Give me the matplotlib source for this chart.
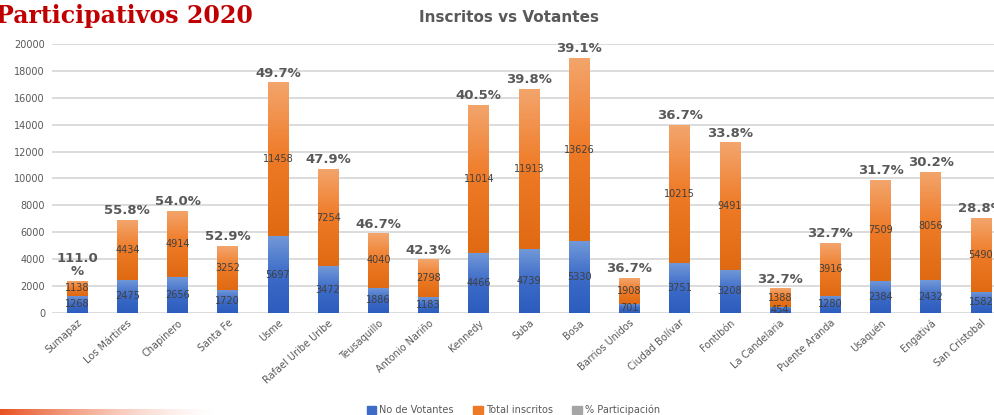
""" Inscritos vs Votantes - presupuestos participativos 2020. """

import numpy as np
import matplotlib
matplotlib.use('Agg')
import matplotlib.pyplot as plt
from matplotlib.colors import LinearSegmentedColormap
from matplotlib.patches import Patch

localidades = ['Sumapaz', 'Los Mártires', 'Chapinero', 'Santa Fe', 'Usme',
               'Rafael Uribe Uribe', 'Teusaquillo', 'Antonio Nariño', 'Kennedy',
               'Suba', 'Bosa', 'Barrios Unidos', 'Ciudad Bolívar', 'Fontibón',
               'La Candelaria', 'Puente Aranda', 'Usaquén', 'Engativá',
               'San Cristobal']
votantes = [1268, 2475, 2656, 1720, 5697, 3472, 1886, 1183, 4466, 4739,
            5330, 701, 3751, 3208, 454, 1280, 2384, 2432, 1582]
inscritos = [1138, 4434, 4914, 3252, 11458, 7254, 4040, 2798, 11014, 11913,
             13626, 1908, 10215, 9491, 1388, 3916, 7509, 8056, 5490]
participacion = [111.0, 55.8, 54.0, 52.9, 49.7, 47.9, 46.7, 42.3, 40.5, 39.8,
                 39.1, 36.7, 36.7, 33.8, 32.7, 32.7, 31.7, 30.2, 28.8]
pct_labels = ['111.0\n%'] + ['%.1f%%' % p for p in participacion[1:]]
yticks = [0, 2000, 4000, 6000, 8000, 10000, 12000, 14000, 16000, 18000, 20000]

blue_cmap = LinearSegmentedColormap.from_list('b', ['#2c5cbd', '#3c6bc8', '#7198d8'])
orange_cmap = LinearSegmentedColormap.from_list('o', ['#df6a12', '#ef7a26', '#f3a56c'])
grey = '#a5a5a5'
text_grey = '#595959'


def gradient_bars(ax, bars, cmap):
    """ replace the flat fill of each bar by a vertical gradient """
    grad = np.linspace(0, 1, 64).reshape(-1, 1)
    for b in bars:
        x0, y0 = b.get_x(), b.get_y()
        im = ax.imshow(grad, extent=[x0, x0 + b.get_width(), y0, y0 + b.get_height()],
                       origin='lower', aspect='auto', cmap=cmap, zorder=2)
        im.set_clip_path(b)
        b.set_facecolor('none')


fig = plt.figure(figsize=(9.95, 4.15), dpi=100)
ax = fig.add_axes([52 / 995, 102 / 415, 954 / 995, 269 / 415])

x = np.arange(len(localidades))
pct_frac = np.array(participacion) / 100.0
bottoms2 = np.array(votantes) + np.array(inscritos)

b1 = ax.bar(x, votantes, width=0.41, color='#3c6bc8', zorder=2, linewidth=0)
b2 = ax.bar(x, inscritos, width=0.41, bottom=votantes, color='#ef7a26', zorder=2, linewidth=0)
b3 = ax.bar(x, pct_frac, width=0.41, bottom=bottoms2, color=grey, zorder=2, linewidth=0)
gradient_bars(ax, b1, blue_cmap)
gradient_bars(ax, b2, orange_cmap)

# value labels
for i in range(len(x)):
    ax.text(x[i], votantes[i] / 2, str(votantes[i]), ha='center', va='center',
            fontsize=7, color='#404040', zorder=4)
    ax.text(x[i], votantes[i] + inscritos[i] / 2, str(inscritos[i]), ha='center',
            va='center', fontsize=7, color='#404040', zorder=4)
    ax.text(x[i], bottoms2[i] + 200, pct_labels[i], ha='center', va='bottom',
            fontsize=9.5, fontweight='bold', color=text_grey, zorder=4,
            linespacing=1.0)

ax.set_xlim(-0.5, len(x) - 0.5)
ax.set_ylim(0, 20000)
ax.set_yticks(yticks)
ax.yaxis.grid(True, color='#d9d9d9', linewidth=1.3, zorder=0)
ax.set_axisbelow(True)
for s in ax.spines.values():
    s.set_visible(False)
ax.tick_params(axis='both', length=0, labelsize=7, labelcolor=text_grey)
ax.tick_params(axis='y', pad=5)
ax.set_xticks(x)
ax.set_xticklabels(localidades, rotation=42, ha='right', rotation_mode='anchor',
                   fontsize=7)

fig.text(0.512, 0.958, 'Inscritos vs Votantes', ha='center', va='center',
         fontsize=11, fontweight='bold', color=text_grey)
fig.text(-0.004, 0.99, 'Participativos 2020', ha='left', va='top',
         fontsize=17, fontweight='bold', color='#c00000', family='DejaVu Serif')

handles = [Patch(color='#3c6bc8'), Patch(color='#ef7a26'), Patch(color=grey)]
fig.legend(handles, ['No de Votantes', 'Total inscritos', '% Participación'],
           loc='center', bbox_to_anchor=(0.516, 0.012), ncol=3, frameon=False,
           fontsize=7, handlelength=1.0, handleheight=0.9, columnspacing=2.0,
           handletextpad=0.3, labelcolor=text_grey)

# decorative stripe bottom-left
sax = fig.add_axes([0, 0, 0.22, 0.014])
rgba = np.zeros((1, 200, 4))
rgba[..., 0], rgba[..., 1], rgba[..., 2] = 0.91, 0.32, 0.13
rgba[..., 3] = np.linspace(1, 0, 200) ** 1.5
sax.imshow(rgba, aspect='auto')
sax.axis('off')

fig.savefig('out.png', dpi=100)
